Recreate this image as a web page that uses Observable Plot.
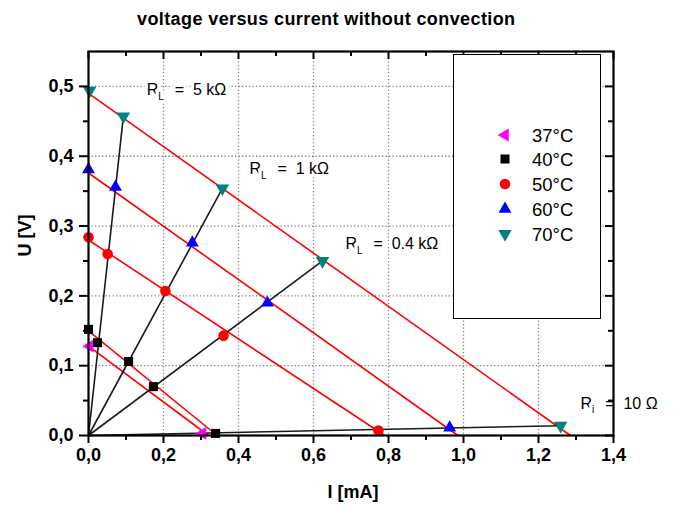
<!DOCTYPE html>
<html>
<head>
<meta charset="utf-8">
<script src="https://cdn.jsdelivr.net/npm/d3@7"></script>
<script src="https://cdn.jsdelivr.net/npm/@observablehq/plot@0.6"></script>
<style>
  body { margin: 0; background: #fff; }
  #wrap { position: relative; width: 682px; height: 507px; overflow: hidden; background: #fff; }
  #title { position: absolute; left: 137px; top: 10px; font: bold 18px "Liberation Sans", Arial, sans-serif; line-height: 18px; white-space: nowrap; color: #000; }
  #chart { position: absolute; left: 0; top: 40px; }
  #legend { position: absolute; left: 453px; top: 54px; width: 146px; height: 263px; border: 1.5px solid #000; background: #fff; }
</style>
</head>
<body>
<div id="wrap">
  <div id="title">voltage versus current without convection</div>
  <div id="chart"></div>
  <div id="legend"></div>
</div>
<script>
// ---- data ----
const temperatures = ["37°C", "40°C", "50°C", "60°C", "70°C"];
const current37 = [0.003, 0.304];
const voltage37 = [0.128, 0.003];
const current40 = [0.000, 0.024, 0.107, 0.173, 0.339];
const voltage40 = [0.152, 0.133, 0.106, 0.070, 0.003];
const current50 = [0.000, 0.051, 0.205, 0.360, 0.773];
const voltage50 = [0.284, 0.260, 0.207, 0.143, 0.007];
const current60 = [0.000, 0.072, 0.277, 0.477, 0.963];
const voltage60 = [0.381, 0.356, 0.276, 0.190, 0.011];
const current70 = [0.003, 0.093, 0.357, 0.624, 1.259];
const voltage70 = [0.494, 0.457, 0.354, 0.250, 0.014];

// linear fits (open-circuit voltage, short-circuit current) per temperature
const fitVoltage0 = [0.128, 0.150, 0.280, 0.376, 0.490];
const fitCurrent0 = [0.320, 0.343, 0.790, 0.985, 1.285];

// load lines
const loadNames = ["R_L = 5 kΩ", "R_L = 1 kΩ", "R_L = 0.4 kΩ", "R_i = 10 Ω"];
const loadEndCurrent = [0.093, 0.357, 0.624, 1.259];
const loadEndVoltage = [0.457, 0.354, 0.250, 0.014];
const loadLabelCurrent = [0.155, 0.429, 0.685, 1.312];
const loadLabelVoltage = [0.495, 0.382, 0.274, 0.046];

const xTicks = [0, 0.2, 0.4, 0.6, 0.8, 1.0, 1.2, 1.4];
const xMinorTicks = [0.1, 0.3, 0.5, 0.7, 0.9, 1.1, 1.3];
const yTicks = [0, 0.1, 0.2, 0.3, 0.4, 0.5];
const yMinorTicks = [0.05, 0.15, 0.25, 0.35, 0.45];

// ---- styles ----
const colors = ["#ff00ff", "#000000", "#ff0000", "#0000ff", "#008080"];
const symbols = ["triangle", "square", "circle", "triangle", "triangle"];
const rotations = [-90, 0, 0, 0, 180];
const radii = [4.8, 5.1, 5.3, 4.8, 5.0];

// ---- tables ----
const currents = [current37, current40, current50, current60, current70];
const voltages = [voltage37, voltage40, voltage50, voltage60, voltage70];
const points = temperatures.map((t, k) => currents[k].map((c, i) => ({t, k, I: c, U: voltages[k][i]})));
const fits = temperatures.map((t, k) => ({t, U0: fitVoltage0[k], I0: fitCurrent0[k]}));
const loads = loadNames.map((n, i) => ({n, I: loadEndCurrent[i], U: loadEndVoltage[i], lx: loadLabelCurrent[i], ly: loadLabelVoltage[i]}));

const fmt = d => d.toFixed(1).replace(".", ",");
const W = 682, H = 467, mL = 88, mR = 69, mT = 11, mB = 72;
const innerW = W - mL - mR, innerH = H - mT - mB;
const font = "'Liberation Sans', Arial, sans-serif";

const plot = Plot.plot({
  width: W, height: H,
  marginLeft: mL, marginRight: mR, marginTop: mT, marginBottom: mB,
  style: {fontFamily: font, fontSize: "15px", background: "transparent", overflow: "visible", color: "#000"},
  x: {domain: [0, 1.4]},
  y: {domain: [0, 0.55]},
  marks: [
    Plot.gridX(xTicks.slice(1, -1), {stroke: "#808080", strokeOpacity: 1, strokeWidth: 1.3, strokeDasharray: "1.3,2.2"}),
    Plot.gridY(yTicks.slice(1), {stroke: "#808080", strokeOpacity: 1, strokeWidth: 1.3, strokeDasharray: "1.3,2.2"}),
    Plot.link(fits, {x1: 0, y1: "U0", x2: "I0", y2: 0, stroke: "#ff0000", strokeWidth: 1.6}),
    Plot.link(loads, {x1: 0, y1: 0, x2: "I", y2: "U", stroke: "#1a1a1a", strokeWidth: 1.6}),
    ...points.map((pts, k) => Plot.dot(pts, {x: "I", y: "U", symbol: () => symbols[k], fill: colors[k], stroke: "none", r: radii[k], rotate: rotations[k]})),
    Plot.text(loads, {x: "lx", y: "ly", text: "n", textAnchor: "start", lineAnchor: "middle", fontSize: 16, fill: "#000", stroke: "#fff", strokeWidth: 7, paintOrder: "stroke"}),
    // axes
    Plot.axisX(xTicks, {anchor: "bottom", tickSize: 8, tickPadding: 5, strokeWidth: 2, tickFormat: fmt, fontWeight: "bold", fontSize: 18, label: null}),
    Plot.axisX(xMinorTicks, {anchor: "bottom", tickSize: 5, strokeWidth: 2, tickFormat: () => "", label: null}),
    Plot.axisY(yTicks, {anchor: "left", tickSize: 9, tickPadding: 6, strokeWidth: 2, tickFormat: fmt, fontWeight: "bold", fontSize: 18, label: null}),
    Plot.axisY(yMinorTicks, {anchor: "left", tickSize: 5, strokeWidth: 2, tickFormat: () => "", label: null}),
    Plot.tickX(xTicks, {x: d => d, insetBottom: innerH - 8, strokeWidth: 2}),
    Plot.tickX(xMinorTicks, {x: d => d, insetBottom: innerH - 5, strokeWidth: 2}),
    Plot.tickY(yTicks, {y: d => d, insetLeft: innerW - 8, strokeWidth: 2}),
    Plot.tickY(yMinorTicks, {y: d => d, insetLeft: innerW - 5, strokeWidth: 2}),
    Plot.frame({stroke: "#000", strokeWidth: 2.2}),
    Plot.text(["I [mA]"], {frameAnchor: "bottom", dx: 2, dy: 57, text: d => d, fontWeight: "bold", fontSize: 18, lineAnchor: "middle"}),
    Plot.text(["U [V]"], {frameAnchor: "left", dx: -63, dy: 13, text: d => d, rotate: -90, fontWeight: "bold", fontSize: 18, lineAnchor: "middle"})
  ]
});

// subscripts in R_L / R_i labels
d3.select(plot).selectAll("text").filter(function () { return /^R_/.test(this.textContent); }).each(function () {
  const m = this.textContent.match(/^R_(\w)(.*)$/);
  const sel = d3.select(this);
  sel.text(null).style("white-space", "pre");
  sel.append("tspan").text("R");
  sel.append("tspan").attr("dy", 5).attr("font-size", 10).text(m[1]);
  sel.append("tspan").attr("dy", -5).attr("dx", 2).text(m[2].replace(/ = /, "  =  "));
});

document.getElementById("chart").appendChild(plot);

// title width fit
(function () {
  const el = document.getElementById("title");
  const w = el.getBoundingClientRect().width;
  const n = el.textContent.length;
  el.style.letterSpacing = ((378 - w) / (n - 1)).toFixed(2) + "px";
})();

// legend
(function () {
  const svg = d3.select("#legend").append("svg").attr("width", 146).attr("height", 263);
  const rowsY = [80, 104, 129, 154, 179];
  temperatures.forEach((t, k) => {
    const size = Math.PI * radii[k] * radii[k];
    const shape = {triangle: d3.symbolTriangle, square: d3.symbolSquare, circle: d3.symbolCircle}[symbols[k]];
    svg.append("path")
      .attr("d", d3.symbol(shape, size)())
      .attr("fill", colors[k])
      .attr("transform", `translate(51,${rowsY[k]}) rotate(${rotations[k]})`);
    svg.append("text")
      .attr("x", 78).attr("y", rowsY[k]).attr("dy", "0.36em")
      .attr("font-family", font).attr("font-size", 18.5)
      .text(t);
  });
})();
</script>
</body>
</html>
